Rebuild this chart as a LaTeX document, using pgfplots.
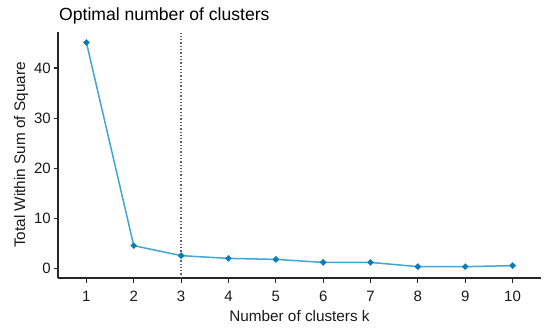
\documentclass[border=0pt]{standalone}
\usepackage{fontspec}
\setmainfont{Liberation Sans}
\usepackage{pgfplots}
\pgfplotsset{compat=1.18}
\definecolor{linecol}{RGB}{64,166,212}
\definecolor{markcol}{RGB}{10,124,184}
\begin{document}
\fontsize{15}{18}\selectfont
\begin{tikzpicture}[x=1pt,y=1pt]
\path[use as bounding box] (-58pt,-55pt) rectangle (492pt,278pt);
\begin{axis}[
  scale only axis,
  width=483pt, height=246pt,
  at={(0pt,0pt)}, anchor=south west,
  xmin=0.4, xmax=10.6,
  ymin=-1.97, ymax=47.2,
  axis lines*=left,
  axis line style={line width=1.1pt, black!85},
  xtick={1,2,3,4,5,6,7,8,9,10},
  ytick={0,10,20,30,40},
  tick align=outside,
  major tick length=4.5pt,
  tick style={line width=1.1pt, black!85},
  /pgf/number format/assume math mode=true,
  tick label style={font=\fontsize{15}{18}\selectfont, text=black!90},
  x tick label style={inner sep=0pt, anchor=north, yshift=-8pt},
  y tick label style={inner sep=0pt, anchor=east, xshift=-2.5pt},
  xlabel={Number of clusters k},
  ylabel={Total Within Sum of Square},
  label style={font=\fontsize{15.3}{18}\selectfont, text=black!90},
  x label style={at={(axis description cs:0.5,-0.1776)}, anchor=base, inner sep=0pt},
  y label style={at={(axis description cs:-0.0683,0.5)}, anchor=base, rotate=0, inner sep=0pt},
  clip=false,
]
\addplot[gray!75!black, line width=1.3pt, dash pattern=on 1.3pt off 2pt] coordinates {(3,-1.97) (3,47.2)};
\addplot[color=linecol, line width=1.5pt, mark=square*, mark size=2.2pt,
  mark options={fill=markcol, draw=markcol, line width=0.3pt, rotate=45}] coordinates {
  (1,45.1) (2,4.5) (3,2.5) (4,1.95) (5,1.75) (6,1.15) (7,1.15) (8,0.3) (9,0.3) (10,0.5)
};
\end{axis}
\node[anchor=base west, inner sep=0pt, font=\fontsize{17.6}{20}\selectfont] at (1pt,257.3pt) {Optimal number of clusters};
\end{tikzpicture}
\end{document}
